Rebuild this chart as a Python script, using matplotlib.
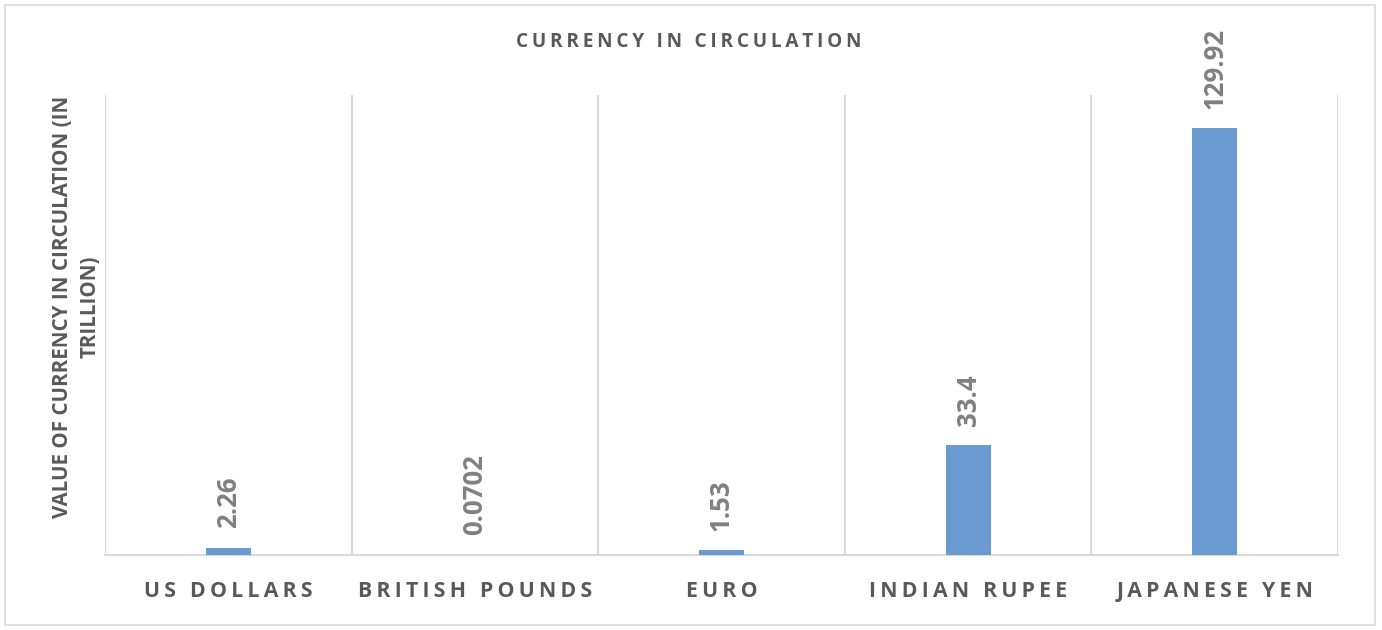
import matplotlib
matplotlib.use("Agg")
import matplotlib.pyplot as plt
from matplotlib.patches import Rectangle

# data
currencies = ["US DOLLARS", "BRITISH POUNDS", "EURO", "INDIAN RUPEE", "JAPANESE YEN"]
values = [2.26, 0.0702, 1.53, 33.4, 129.92]
value_labels = ["2.26", "0.0702", "1.53", "33.4", "129.92"]

title = "CURRENCY IN CIRCULATION"
ylabel = "VALUE OF CURRENCY IN CIRCULATION (IN\nTRILLION)"

plt.rcParams['font.family'] = ['Open Sans', 'DejaVu Sans']


def spaced(s, gap="\u2009"):
    '''crude letter spacing with thin spaces'''
    return gap.join(s)


fig = plt.figure(figsize=(13.82, 6.30), dpi=100)
ax = fig.add_axes([105/1382, 75/630, 1233/1382, 460/630])

x = list(range(len(currencies)))
ax.bar(x, values, width=0.183, color="#699BD0", zorder=3)

ax.set_xlim(-0.5, len(currencies) - 0.5)
ax.set_ylim(0, 140)

# category separators
for b in range(len(currencies) + 1):
    ax.axvline(b - 0.5, color="#D9D9D9", lw=1.5, zorder=1)

for s in ax.spines.values():
    s.set_visible(False)
ax.spines['bottom'].set_visible(True)
ax.spines['bottom'].set_color("#D9D9D9")
ax.spines['bottom'].set_linewidth(1.5)

ax.set_yticks([])
ax.set_xticks(x)
ax.set_xticklabels([spaced(c) for c in currencies], fontsize=15.3,
                   fontweight="bold", color="#595959")
ax.tick_params(axis="x", length=0, pad=19)

for xi, v, lab in zip(x, values, value_labels):
    ax.annotate(lab, (xi, v), xytext=(0, 14), textcoords="offset points",
                rotation=90, ha="center", va="bottom", fontsize=18.5,
                fontweight="bold", color="#808080")

ax.set_ylabel(ylabel, fontsize=14.8, fontweight="bold", color="#595959",
              labelpad=3, linespacing=1.4)
ax.yaxis.label.set_y(0.54)

fig.text(689/1382, 1 - 42/630, spaced(title), ha="center", va="center",
         fontsize=13.7, fontweight="bold", color="#595959")

# outer chart border
fig.add_artist(Rectangle((5/1382, 5/630), 1370/1382, 620/630,
                         transform=fig.transFigure, fill=False,
                         edgecolor="#D9D9D9", lw=1.2))

fig.savefig("out.png", dpi=100)
